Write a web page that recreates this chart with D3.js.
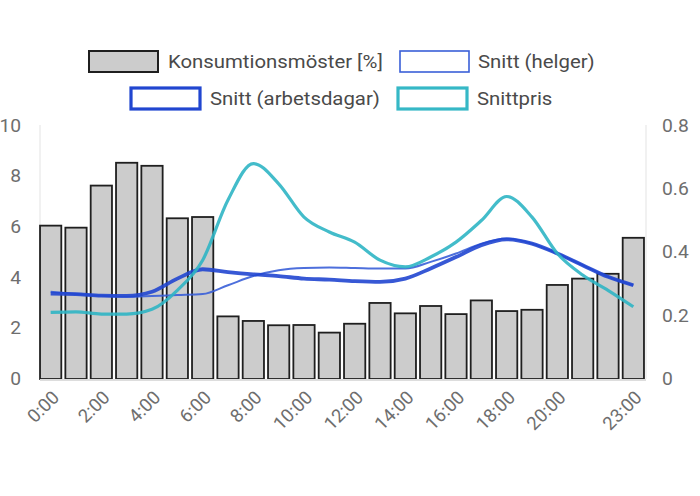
<!DOCTYPE html>
<html><head><meta charset="utf-8">
<script src="https://cdn.jsdelivr.net/npm/d3@7/dist/d3.min.js"></script>
<style>body{margin:0;background:#fff}svg{display:block;font-family:Roboto,"Noto Sans",sans-serif}</style>
</head><body><svg id="c" width="700" height="496"></svg>
<script>
const hours = d3.range(24).map(h => h + ":00");
const tickLabels = ["0:00","2:00","4:00","6:00","8:00","10:00","12:00","14:00","16:00","18:00","20:00","23:00"];
const consumption = [6.05,5.97,7.63,8.53,8.41,6.34,6.39,2.47,2.29,2.12,2.13,1.83,2.18,3.00,2.59,2.88,2.56,3.10,2.68,2.73,3.71,3.96,4.15,5.57];
const weekend = [3.44,3.35,3.28,3.24,3.27,3.31,3.35,3.70,4.06,4.29,4.38,4.40,4.38,4.36,4.36,4.62,4.95,5.34,5.54,5.34,4.95,4.49,4.03,3.70];
const workday = [3.37,3.35,3.29,3.28,3.44,3.96,4.33,4.22,4.13,4.06,3.96,3.92,3.86,3.83,3.96,4.36,4.81,5.28,5.51,5.34,4.95,4.49,4.03,3.70];
const price = [0.210,0.212,0.205,0.205,0.220,0.280,0.375,0.565,0.680,0.616,0.511,0.464,0.432,0.375,0.354,0.385,0.432,0.500,0.576,0.511,0.396,0.328,0.280,0.228];
const leftTicks = [0,2,4,6,8,10];
const rightTicks = [0,0.2,0.4,0.6,0.8];
const legendNames = ["Konsumtionsmöster [%]","Snitt (helger)","Snitt (arbetsdagar)","Snittpris"];

const svg = d3.select("#c");
const x = d3.scaleBand().domain(hours).range([38,646]).paddingInner(0.16).paddingOuter(0.08);
const yL = d3.scaleLinear().domain([0,10]).range([379,125.5]);
const yR = d3.scaleLinear().domain([0,0.8]).range([379,125.5]);

// frame lines
svg.append("line").attr("x1",40).attr("x2",40).attr("y1",125).attr("y2",379).attr("stroke","#e3e3e3").attr("stroke-width",1);
svg.append("line").attr("x1",646).attr("x2",646).attr("y1",125).attr("y2",379).attr("stroke","#e3e3e3").attr("stroke-width",1);

// axes labels
const gl = svg.append("g").attr("transform","translate(21,0)")
  .call(d3.axisLeft(yL).tickValues(leftTicks).tickSize(0).tickPadding(0).tickFormat(d3.format("d")));
gl.select(".domain").remove();
gl.selectAll("text").attr("font-size",17.5).attr("fill","#6e6e6e").attr("font-family","Roboto").attr("transform","scale(1.1,1)");
const gr = svg.append("g").attr("transform","translate(662,0)")
  .call(d3.axisRight(yR).tickValues(rightTicks).tickSize(0).tickPadding(0).tickFormat(d => d===0?"0":d3.format(".1f")(d)));
gr.select(".domain").remove();
gr.selectAll("text").attr("font-size",17.5).attr("fill","#6e6e6e").attr("font-family","Roboto").attr("transform","scale(1.1,1)");

// bars
svg.append("g").selectAll("rect").data(consumption).join("rect")
  .attr("x",(d,i)=>x(hours[i])).attr("width",x.bandwidth())
  .attr("y",d=>yL(d)).attr("height",d=>yL(0)-yL(d))
  .attr("fill","#cccccc").attr("stroke","#1f1f1f").attr("stroke-width",1.8);

// baseline
svg.append("line").attr("x1",40).attr("x2",646).attr("y1",380).attr("y2",380).attr("stroke","#dddddd").attr("stroke-width",2);

// x axis
const gx = svg.append("g").attr("transform","translate(0,384)")
  .call(d3.axisBottom(x).tickValues(tickLabels).tickSize(0).tickPadding(0));
gx.select(".domain").remove();
gx.selectAll("text").attr("font-size",18.5).attr("fill","#6e6e6e").attr("font-family","Roboto")
  .attr("text-anchor","end").attr("dy","0.35em").attr("dx","0")
  .attr("transform","translate(5,10) rotate(-45)");

// lines
const cx = i => x(hours[i]) + x.bandwidth()/2;
const curve = d3.curveMonotoneX;
const lineL = d3.line().x((d,i)=>cx(i)).y(d=>yL(d)).curve(curve);
const lineR = d3.line().x((d,i)=>cx(i)).y(d=>yR(d)).curve(curve);
svg.append("path").attr("d",lineL(weekend)).attr("fill","none").attr("stroke","#3a5fd8").attr("stroke-width",2).attr("opacity",0.9);
svg.append("path").attr("d",lineL(workday)).attr("fill","none").attr("stroke","#2146d0").attr("stroke-width",3.8).attr("opacity",0.9);
svg.append("path").attr("d",lineR(price)).attr("fill","none").attr("stroke","#2fb5c4").attr("stroke-width",3.2).attr("opacity",0.9);

// legend
const leg = [
  {name:legendNames[0], rx:89, ry:51, fill:"#cccccc", stroke:"#1f1f1f", sw:2, tx:168},
  {name:legendNames[1], rx:400, ry:51, fill:"#ffffff", stroke:"#3a5fd8", sw:1.6, tx:478},
  {name:legendNames[2], rx:131, ry:88, fill:"#ffffff", stroke:"#2146d0", sw:3.2, tx:210},
  {name:legendNames[3], rx:398, ry:88, fill:"#ffffff", stroke:"#36b8c6", sw:3.2, tx:477}
];
const lg = svg.append("g").selectAll("g").data(leg).join("g");
lg.append("rect").attr("x",d=>d.rx).attr("y",d=>d.ry).attr("width",69).attr("height",21)
  .attr("fill",d=>d.fill).attr("stroke",d=>d.stroke).attr("stroke-width",d=>d.sw);
lg.append("text").attr("transform",d=>`translate(${d.tx},${d.ry+10.5}) scale(1.1,1)`).attr("dy","0.35em")
  .attr("font-size",18.5).attr("fill","#4a4a4a").attr("font-family","Roboto").text(d=>d.name);
</script></body></html>
